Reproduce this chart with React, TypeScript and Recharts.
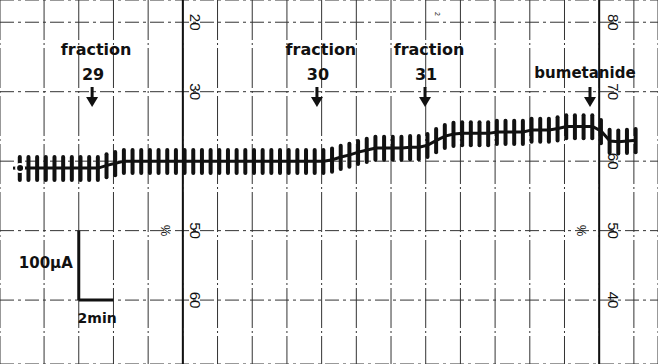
import React from "react";
import {
  ComposedChart,
  Line,
  Bar,
  XAxis,
  YAxis,
  CartesianGrid,
  ReferenceLine,
  ReferenceDot,
} from "recharts";

// chart paper: 2 min per vertical division, 100 µA per horizontal division
const GRID_MINUTES = [0, 2, 4, 6, 8, 10, 12, 14, 16, 18, 20, 22, 24, 26, 28, 30, 32, 34];
const GRID_CURRENT = [0, 100, 200, 300, 400];
const MAJOR_MINUTES = [8, 32];

// pacing pulses, one every 30 s
const SPIKE_START = -1.38;
const SPIKE_STEP = 0.5;
const LEAD_TIME = -1.79;
const SPIKE_UP = 19;
const SPIKE_DOWN = 20;

// baseline current (µA) under each pulse
const BASELINE = [
  190, 190, 190, 190, 190, 190, 190, 190, 190, 190,
  194, 197, 200, 200, 200, 200, 200, 200, 200, 200,
  200, 200, 200, 200, 200, 200, 200, 200, 200, 200,
  200, 200, 200, 200, 200, 200, 202, 206, 209, 213,
  216, 219, 219, 219, 219, 220, 220, 223, 230, 236,
  239, 240, 240, 240, 240, 242, 242, 242, 242, 245,
  245, 245, 247, 250, 250, 250, 250, 243, 229, 228,
  229, 230,
];

// annotations
const MARKER_TIMES = [2.77, 15.73, 21.96, 31.47];
const MARKER_LABELS = [["fraction", "29"], ["fraction", "30"], ["fraction", "31"], ["bumetanide"]];
const ARROW_TIP = 278;

const LEFT_SCALE_T = 8.75;
const LEFT_SCALE_V = [0, 100, 300, 400];
const LEFT_SCALE = ["60", "50", "30", "20"];
const RIGHT_SCALE_T = 32.8;
const RIGHT_SCALE_V = [0, 100, 200, 300, 400];
const RIGHT_SCALE = ["40", "50", "60", "70", "80"];
const PERCENT_T = [7, 31];

const data = BASELINE.map((b, i) => ({
  t: SPIKE_START + i * SPIKE_STEP,
  base: b,
  range: [b - SPIKE_DOWN, b + SPIKE_UP],
}));

const INK = "#111";
const BOLD = "'DejaVu Sans', sans-serif";

function marker(lines: string[]) {
  return (p: any) => {
    const { cx, cy } = p;
    const two = lines.length === 2;
    return (
      <g>
        {two ? (
          <>
            <text x={cx + 4} y={cy - 52} textAnchor="middle" fontFamily={BOLD} fontWeight="bold" fontSize={16} fill={INK}>
              {lines[0]}
            </text>
            <text x={cx + 1} y={cy - 27} textAnchor="middle" fontFamily={BOLD} fontWeight="bold" fontSize={16} fill={INK}>
              {lines[1]}
            </text>
          </>
        ) : (
          <text x={cx - 5} y={cy - 29} textAnchor="middle" fontFamily={BOLD} fontWeight="bold" fontSize={15} fill={INK}>
            {lines[0]}
          </text>
        )}
        <line x1={cx} y1={cy - 20} x2={cx} y2={cy - 8} stroke={INK} strokeWidth={3} />
        <path d={`M${cx - 6},${cy - 10} L${cx + 6},${cy - 10} L${cx},${cy} Z`} fill={INK} />
      </g>
    );
  };
}

function rotated(label: string, size = 15) {
  return (p: any) => (
    <text
      x={p.cx}
      y={p.cy}
      transform={`rotate(90 ${p.cx} ${p.cy})`}
      textAnchor="middle"
      dominantBaseline="central"
      fontFamily="'Liberation Sans', sans-serif"
      fontSize={size}
      fill={INK}
    >
      {label}
    </text>
  );
}

export default function App() {
  return (
    <div style={{ position: "absolute", left: 0, top: 0, width: 658, height: 364, background: "#fff" }}>
      <ComposedChart width={658} height={364} data={data} margin={{ top: 0, right: 0, bottom: 0, left: 0 }}>
        <XAxis
          dataKey="t"
          type="number"
          domain={[-2.54, 35.39]}
          ticks={GRID_MINUTES}
          allowDataOverflow
          hide
        />
        <YAxis type="number" domain={[-92, 432]} ticks={GRID_CURRENT} allowDataOverflow hide />
        {/* paper rulings: verticals nearly solid, horizontals dash-dot */}
        <CartesianGrid horizontal={false} stroke="#333" strokeWidth={1} strokeDasharray="40 3 2 3" />
        <CartesianGrid vertical={false} stroke="#333" strokeWidth={1} strokeDasharray="14 4 3 4" />
        {MAJOR_MINUTES.map((m) => (
          <ReferenceLine key={m} x={m} stroke={INK} strokeWidth={2} />
        ))}

        {LEFT_SCALE.map((s, i) => (
          <ReferenceDot key={"l" + s} x={LEFT_SCALE_T} y={LEFT_SCALE_V[i]} r={0} shape={rotated(s)} />
        ))}
        {RIGHT_SCALE.map((s, i) => (
          <ReferenceDot key={"r" + s} x={RIGHT_SCALE_T} y={RIGHT_SCALE_V[i]} r={0} shape={rotated(s)} />
        ))}
        {PERCENT_T.map((t) => (
          <ReferenceDot key={"p" + t} x={t} y={100} r={0} shape={rotated("%", 13)} />
        ))}
        <ReferenceDot x={22.7} y={412} r={0} shape={rotated("2", 7)} />

        {/* short lead-in of the trace before the first pulse */}
        <ReferenceLine
          segment={[{ x: LEAD_TIME, y: BASELINE[0] }, { x: SPIKE_START, y: BASELINE[0] }]}
          stroke={INK}
          strokeWidth={3}
        />
        <Bar dataKey="range" barSize={4} fill={INK} radius={2} isAnimationActive={false} />
        <Line
          dataKey="base"
          type="linear"
          stroke={INK}
          strokeWidth={3}
          dot={false}
          isAnimationActive={false}
        />

        {MARKER_TIMES.map((t, i) => (
          <ReferenceDot key={"m" + i} x={t} y={ARROW_TIP} r={0} shape={marker(MARKER_LABELS[i])} />
        ))}

        {/* scale bar: 100 µA by 2 min */}
        <ReferenceLine segment={[{ x: 2, y: 100 }, { x: 2, y: 0 }]} stroke={INK} strokeWidth={3} />
        <ReferenceLine segment={[{ x: 2, y: 0 }, { x: 4, y: 0 }]} stroke={INK} strokeWidth={3} />
        <ReferenceDot
          x={2}
          y={50}
          r={0}
          shape={(p: any) => (
            <text x={p.cx - 6} y={p.cy + 3} textAnchor="end" fontFamily={BOLD} fontWeight="bold" fontSize={15} fill={INK}>
              100µA
            </text>
          )}
        />
        <ReferenceDot
          x={3}
          y={0}
          r={0}
          shape={(p: any) => (
            <text x={p.cx + 1} y={p.cy + 23} textAnchor="middle" fontFamily={BOLD} fontWeight="bold" fontSize={14} fill={INK}>
              2min
            </text>
          )}
        />
      </ComposedChart>
    </div>
  );
}
